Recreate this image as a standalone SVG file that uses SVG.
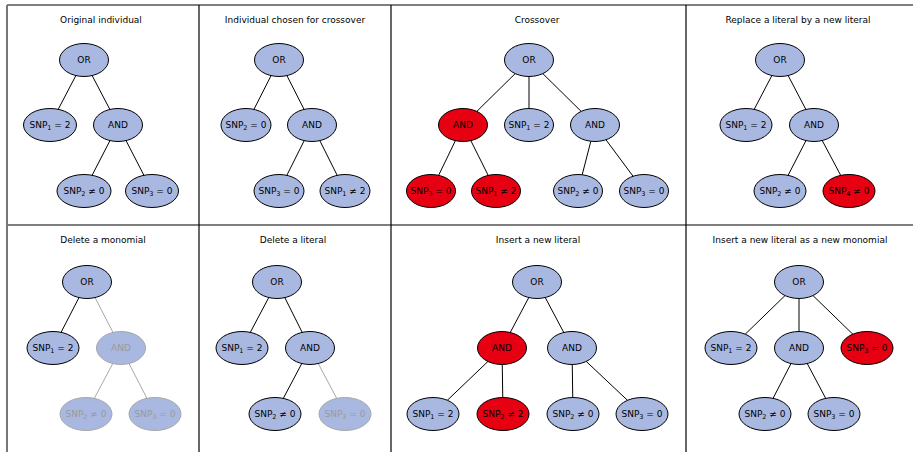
<svg xmlns="http://www.w3.org/2000/svg" width="913" height="452" viewBox="0 0 913 452">
<style>
text{font-family:"DejaVu Sans",sans-serif;font-size:9px;text-anchor:middle;fill:#000}
.t{font-size:9px}
.n ellipse{fill:#a8b8e0;stroke:#000;stroke-width:1}
.r ellipse{fill:#e60012}
.f ellipse{stroke:#a8a8a8}
.f text{fill:#9a9a9a}
.sub{font-size:6.5px}
.e line{stroke:#000;stroke-width:1}
.e line.g{stroke:#a8a8a8}
.b line{stroke:#000;stroke-width:1.2}
</style>
<rect width="913" height="452" fill="#fff"/>
<g id="frame" class="b">
<line x1="7" y1="5" x2="913" y2="5"/>
<line x1="7" y1="225" x2="913" y2="225"/>
<line x1="7" y1="5" x2="7" y2="452" style="stroke:#777;stroke-width:2"/>
<line x1="199" y1="5" x2="199" y2="452"/>
<line x1="391" y1="5" x2="391" y2="452"/>
<line x1="686" y1="5" x2="686" y2="452"/>
</g>
<g id="titles">
<text class="t" x="101" y="23">Original individual</text>
<text class="t" x="295" y="23">Individual chosen for crossover</text>
<text class="t" x="537" y="23">Crossover</text>
<text class="t" x="798" y="23">Replace a literal by a new literal</text>
<text class="t" x="103" y="243">Delete a monomial</text>
<text class="t" x="293" y="243">Delete a literal</text>
<text class="t" x="538" y="243">Insert a new literal</text>
<text class="t" x="800" y="243">Insert a new literal as a new monomial</text>
</g>
<g id="connectors" class="e">
<!-- panel 1 -->
<line x1="84" y1="60" x2="50" y2="125"/><line x1="84" y1="60" x2="118" y2="125"/>
<line x1="118" y1="125" x2="84" y2="191"/><line x1="118" y1="125" x2="152" y2="191"/>
<!-- panel 2 -->
<line x1="279" y1="60" x2="246" y2="125"/><line x1="279" y1="60" x2="312" y2="125"/>
<line x1="312" y1="125" x2="279" y2="191"/><line x1="312" y1="125" x2="345" y2="191"/>
<!-- panel 3 -->
<line x1="529" y1="60" x2="463" y2="125"/><line x1="529" y1="60" x2="529" y2="125"/><line x1="529" y1="60" x2="595" y2="125"/>
<line x1="463" y1="125" x2="431" y2="191"/><line x1="463" y1="125" x2="496" y2="191"/>
<line x1="595" y1="125" x2="578" y2="191"/><line x1="595" y1="125" x2="644" y2="191"/>
<!-- panel 4 -->
<line x1="780" y1="60" x2="746" y2="125"/><line x1="780" y1="60" x2="814" y2="125"/>
<line x1="814" y1="125" x2="780" y2="191"/><line x1="814" y1="125" x2="849" y2="191"/>
<!-- panel 5 -->
<line x1="87" y1="282" x2="53" y2="348"/><line class="g" x1="87" y1="282" x2="121" y2="348"/>
<line class="g" x1="121" y1="348" x2="86" y2="414"/><line class="g" x1="121" y1="348" x2="155" y2="414"/>
<!-- panel 6 -->
<line x1="277" y1="282" x2="242" y2="348"/><line x1="277" y1="282" x2="310" y2="348"/>
<line x1="310" y1="348" x2="275" y2="414"/><line class="g" x1="310" y1="348" x2="345" y2="414"/>
<!-- panel 7 -->
<line x1="537" y1="282" x2="502" y2="348"/><line x1="537" y1="282" x2="572" y2="348"/>
<line x1="502" y1="348" x2="433" y2="414"/><line x1="502" y1="348" x2="503" y2="414"/>
<line x1="572" y1="348" x2="573" y2="414"/><line x1="572" y1="348" x2="642" y2="414"/>
<!-- panel 8 -->
<line x1="799" y1="282" x2="731" y2="348"/><line x1="799" y1="282" x2="799" y2="348"/><line x1="799" y1="282" x2="867" y2="348"/>
<line x1="799" y1="348" x2="765" y2="414"/><line x1="799" y1="348" x2="834" y2="414"/>
</g>
<!-- panel 1 nodes -->
<g id="p1-or" class="n"><ellipse cx="84" cy="60" rx="24.5" ry="16.5"/><text x="84" y="63">OR</text></g>
<g id="p1-snp1" class="n"><ellipse cx="50" cy="125" rx="26.5" ry="16.5"/><text x="50" y="128">SNP<tspan class="sub" dy="2">1</tspan><tspan dy="-2"> = 2</tspan></text></g>
<g id="p1-and" class="n"><ellipse cx="118" cy="125" rx="24.5" ry="16.5"/><text x="118" y="128">AND</text></g>
<g id="p1-snp2" class="n"><ellipse cx="84" cy="191" rx="27" ry="16.5"/><text x="84" y="194">SNP<tspan class="sub" dy="2">2</tspan><tspan dy="-2"> ≠ 0</tspan></text></g>
<g id="p1-snp3" class="n"><ellipse cx="152" cy="191" rx="26.5" ry="16.5"/><text x="152" y="194">SNP<tspan class="sub" dy="2">3</tspan><tspan dy="-2"> = 0</tspan></text></g>
<!-- panel 2 nodes -->
<g id="p2-or" class="n"><ellipse cx="279" cy="60" rx="24.5" ry="16.5"/><text x="279" y="63">OR</text></g>
<g id="p2-snp2" class="n"><ellipse cx="246" cy="125" rx="25" ry="16.5"/><text x="246" y="128">SNP<tspan class="sub" dy="2">2</tspan><tspan dy="-2"> = 0</tspan></text></g>
<g id="p2-and" class="n"><ellipse cx="312" cy="125" rx="24.5" ry="16.5"/><text x="312" y="128">AND</text></g>
<g id="p2-snp3" class="n"><ellipse cx="279" cy="191" rx="25" ry="16.5"/><text x="279" y="194">SNP<tspan class="sub" dy="2">3</tspan><tspan dy="-2"> = 0</tspan></text></g>
<g id="p2-snp1" class="n"><ellipse cx="345" cy="191" rx="25" ry="16.5"/><text x="345" y="194">SNP<tspan class="sub" dy="2">1</tspan><tspan dy="-2"> ≠ 2</tspan></text></g>
<!-- panel 3 nodes -->
<g id="p3-or" class="n"><ellipse cx="529" cy="60" rx="24.5" ry="16.5"/><text x="529" y="63">OR</text></g>
<g id="p3-and1" class="n r"><ellipse cx="463" cy="125" rx="24.5" ry="16.5"/><text x="463" y="128">AND</text></g>
<g id="p3-snp1" class="n"><ellipse cx="529" cy="125" rx="24.5" ry="16.5"/><text x="529" y="128">SNP<tspan class="sub" dy="2">1</tspan><tspan dy="-2"> = 2</tspan></text></g>
<g id="p3-and2" class="n"><ellipse cx="595" cy="125" rx="24.5" ry="16.5"/><text x="595" y="128">AND</text></g>
<g id="p3-snp3a" class="n r"><ellipse cx="431" cy="191" rx="24.5" ry="16.5"/><text x="431" y="194">SNP<tspan class="sub" dy="2">3</tspan><tspan dy="-2"> = 0</tspan></text></g>
<g id="p3-snp1b" class="n r"><ellipse cx="496" cy="191" rx="24.5" ry="16.5"/><text x="496" y="194">SNP<tspan class="sub" dy="2">1</tspan><tspan dy="-2"> ≠ 2</tspan></text></g>
<g id="p3-snp2" class="n"><ellipse cx="578" cy="191" rx="24.5" ry="16.5"/><text x="578" y="194">SNP<tspan class="sub" dy="2">2</tspan><tspan dy="-2"> ≠ 0</tspan></text></g>
<g id="p3-snp3b" class="n"><ellipse cx="644" cy="191" rx="24.5" ry="16.5"/><text x="644" y="194">SNP<tspan class="sub" dy="2">3</tspan><tspan dy="-2"> = 0</tspan></text></g>
<!-- panel 4 nodes -->
<g id="p4-or" class="n"><ellipse cx="780" cy="60" rx="24.5" ry="16.5"/><text x="780" y="63">OR</text></g>
<g id="p4-snp1" class="n"><ellipse cx="746" cy="125" rx="26" ry="16.5"/><text x="746" y="128">SNP<tspan class="sub" dy="2">1</tspan><tspan dy="-2"> = 2</tspan></text></g>
<g id="p4-and" class="n"><ellipse cx="814" cy="125" rx="24.5" ry="16.5"/><text x="814" y="128">AND</text></g>
<g id="p4-snp2" class="n"><ellipse cx="780" cy="191" rx="26" ry="16.5"/><text x="780" y="194">SNP<tspan class="sub" dy="2">2</tspan><tspan dy="-2"> ≠ 0</tspan></text></g>
<g id="p4-snp4" class="n r"><ellipse cx="849" cy="191" rx="26" ry="16.5"/><text x="849" y="194">SNP<tspan class="sub" dy="2">4</tspan><tspan dy="-2"> ≠ 0</tspan></text></g>
<!-- panel 5 nodes -->
<g id="p5-or" class="n"><ellipse cx="87" cy="282" rx="24.5" ry="16.5"/><text x="87" y="285">OR</text></g>
<g id="p5-snp1" class="n"><ellipse cx="53" cy="348" rx="26" ry="16.5"/><text x="53" y="351">SNP<tspan class="sub" dy="2">1</tspan><tspan dy="-2"> = 2</tspan></text></g>
<g id="p5-and" class="n f"><ellipse cx="121" cy="348" rx="24.5" ry="16.5"/><text x="121" y="351">AND</text></g>
<g id="p5-snp2" class="n f"><ellipse cx="86" cy="414" rx="26" ry="16.5"/><text x="86" y="417">SNP<tspan class="sub" dy="2">2</tspan><tspan dy="-2"> ≠ 0</tspan></text></g>
<g id="p5-snp3" class="n f"><ellipse cx="155" cy="414" rx="26" ry="16.5"/><text x="155" y="417">SNP<tspan class="sub" dy="2">3</tspan><tspan dy="-2"> = 0</tspan></text></g>
<!-- panel 6 nodes -->
<g id="p6-or" class="n"><ellipse cx="277" cy="282" rx="24.5" ry="16.5"/><text x="277" y="285">OR</text></g>
<g id="p6-snp1" class="n"><ellipse cx="242" cy="348" rx="26" ry="16.5"/><text x="242" y="351">SNP<tspan class="sub" dy="2">1</tspan><tspan dy="-2"> = 2</tspan></text></g>
<g id="p6-and" class="n"><ellipse cx="310" cy="348" rx="24.5" ry="16.5"/><text x="310" y="351">AND</text></g>
<g id="p6-snp2" class="n"><ellipse cx="275" cy="414" rx="26" ry="16.5"/><text x="275" y="417">SNP<tspan class="sub" dy="2">2</tspan><tspan dy="-2"> ≠ 0</tspan></text></g>
<g id="p6-snp3" class="n f"><ellipse cx="345" cy="414" rx="26" ry="16.5"/><text x="345" y="417">SNP<tspan class="sub" dy="2">3</tspan><tspan dy="-2"> = 0</tspan></text></g>
<!-- panel 7 nodes -->
<g id="p7-or" class="n"><ellipse cx="537" cy="282" rx="24.5" ry="16.5"/><text x="537" y="285">OR</text></g>
<g id="p7-and1" class="n r"><ellipse cx="502" cy="348" rx="24.5" ry="16.5"/><text x="502" y="351">AND</text></g>
<g id="p7-and2" class="n"><ellipse cx="572" cy="348" rx="24.5" ry="16.5"/><text x="572" y="351">AND</text></g>
<g id="p7-snp1" class="n"><ellipse cx="433" cy="414" rx="26" ry="16.5"/><text x="433" y="417">SNP<tspan class="sub" dy="2">1</tspan><tspan dy="-2"> = 2</tspan></text></g>
<g id="p7-snp2a" class="n r"><ellipse cx="503" cy="414" rx="26" ry="16.5"/><text x="503" y="417">SNP<tspan class="sub" dy="2">2</tspan><tspan dy="-2"> ≠ 2</tspan></text></g>
<g id="p7-snp2b" class="n"><ellipse cx="573" cy="414" rx="26" ry="16.5"/><text x="573" y="417">SNP<tspan class="sub" dy="2">2</tspan><tspan dy="-2"> ≠ 0</tspan></text></g>
<g id="p7-snp3" class="n"><ellipse cx="642" cy="414" rx="26" ry="16.5"/><text x="642" y="417">SNP<tspan class="sub" dy="2">3</tspan><tspan dy="-2"> = 0</tspan></text></g>
<!-- panel 8 nodes -->
<g id="p8-or" class="n"><ellipse cx="799" cy="282" rx="24.5" ry="16.5"/><text x="799" y="285">OR</text></g>
<g id="p8-snp1" class="n"><ellipse cx="731" cy="348" rx="26" ry="16.5"/><text x="731" y="351">SNP<tspan class="sub" dy="2">1</tspan><tspan dy="-2"> = 2</tspan></text></g>
<g id="p8-and" class="n"><ellipse cx="799" cy="348" rx="24.5" ry="16.5"/><text x="799" y="351">AND</text></g>
<g id="p8-snp3a" class="n r"><ellipse cx="867" cy="348" rx="26" ry="16.5"/><text x="867" y="351">SNP<tspan class="sub" dy="2">3</tspan><tspan dy="-2"> = 0</tspan></text></g>
<g id="p8-snp2" class="n"><ellipse cx="765" cy="414" rx="26" ry="16.5"/><text x="765" y="417">SNP<tspan class="sub" dy="2">2</tspan><tspan dy="-2"> ≠ 0</tspan></text></g>
<g id="p8-snp3b" class="n"><ellipse cx="834" cy="414" rx="26" ry="16.5"/><text x="834" y="417">SNP<tspan class="sub" dy="2">3</tspan><tspan dy="-2"> = 0</tspan></text></g>
</svg>
